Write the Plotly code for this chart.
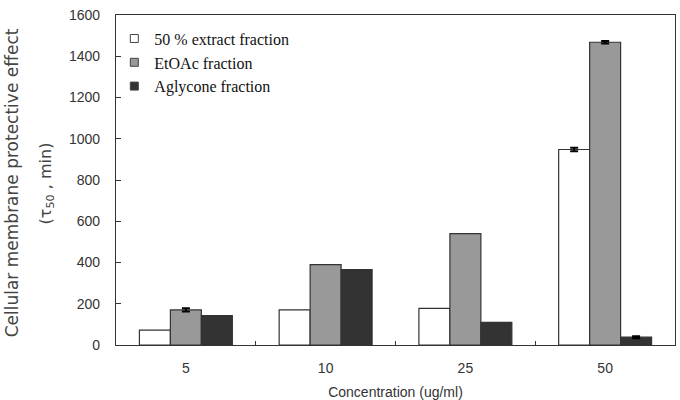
import plotly.graph_objects as go

categories = ["5", "10", "25", "50"]
series_names = ["50 % extract fraction", "EtOAc fraction", "Aglycone fraction"]
extract_vals = [72, 170, 178, 948]
etoac_vals = [170, 390, 540, 1468]
aglycone_vals = [143, 365, 110, 38]
extract_err = [None, None, None, 8]
etoac_err = [8, None, None, 6]
aglycone_err = [None, None, None, 5]
y_ticks = [0, 200, 400, 600, 800, 1000, 1200, 1400, 1600]

fills = ["#ffffff", "#999999", "#333333"]
fig = go.Figure()
for i, (name, vals, err, col) in enumerate(zip(series_names,
                                [extract_vals, etoac_vals, aglycone_vals],
                                [extract_err, etoac_err, aglycone_err], fills)):
    grp = "g%d" % i
    fig.add_trace(go.Bar(
        x=categories, y=vals, name=name, showlegend=False, offsetgroup=grp,
        marker=dict(color=col, line=dict(color="#333333", width=1.2)),
    ))
    ex = [c for c, e in zip(categories, err) if e is not None]
    ey = [v for v, e in zip(vals, err) if e is not None]
    ee = [e for e in err if e is not None]
    fig.add_trace(go.Bar(
        x=ex, y=ey, showlegend=False, offsetgroup=grp, hoverinfo="skip",
        marker=dict(color="rgba(0,0,0,0)", line=dict(width=0)),
        error_y=dict(type="data", array=ee, visible=True, color="#000000",
                     thickness=2, width=4),
    ))
for name, col in zip(series_names, fills):
    fig.add_trace(go.Scatter(
        x=[None], y=[None], mode="markers", name=name,
        marker=dict(symbol="square", size=8, color=col, line=dict(color="#444444", width=1)),
    ))

fig.update_layout(
    width=680, height=400,
    margin=dict(l=116, r=5, t=15, b=55),
    paper_bgcolor="white", plot_bgcolor="white",
    barmode="group", bargap=0.335, bargroupgap=0,
    showlegend=True,
    legend=dict(x=-0.003, y=0.98, xanchor="left", yanchor="top",
                font=dict(family="Liberation Serif, Times New Roman, serif", size=16, color="#111111"),
                bgcolor="rgba(0,0,0,0)", tracegroupgap=0, itemwidth=30),
    font=dict(family="Liberation Sans, Arial, sans-serif"),
)
fig.update_xaxes(
    type="category", showline=True, linecolor="#333333", linewidth=1.2, mirror=True,
    ticks="inside", tickson="boundaries", ticklen=4, tickcolor="#333333",
    tickfont=dict(size=14, color="#333333"), ticklabelstandoff=10, automargin=False,
    title=dict(text="Concentration (ug/ml)", font=dict(size=14, color="#333333"), standoff=14),
)
fig.update_yaxes(
    range=[0, 1600], tickvals=y_ticks, showgrid=False, zeroline=False,
    showline=True, linecolor="#333333", linewidth=1.2, mirror=True, automargin=False,
    ticks="inside", ticklen=5, tickcolor="#333333", ticklabelstandoff=12,
    tickfont=dict(size=14, color="#333333", family="Liberation Sans, Arial, sans-serif"),
)
fig.add_annotation(text="Cellular membrane protective effect", xref="paper", yref="paper",
                   x=-0.186, y=0.49, xanchor="center", yanchor="middle", textangle=-90,
                   showarrow=False, font=dict(size=17, color="#444444", family="DejaVu Sans"))
fig.add_annotation(text="(τ<sub>50</sub> , min)", xref="paper", yref="paper",
                   x=-0.125, y=0.49, xanchor="center", yanchor="middle", textangle=-90,
                   showarrow=False, font=dict(size=16, color="#444444", family="DejaVu Sans"))
fig.write_html("out.html")
